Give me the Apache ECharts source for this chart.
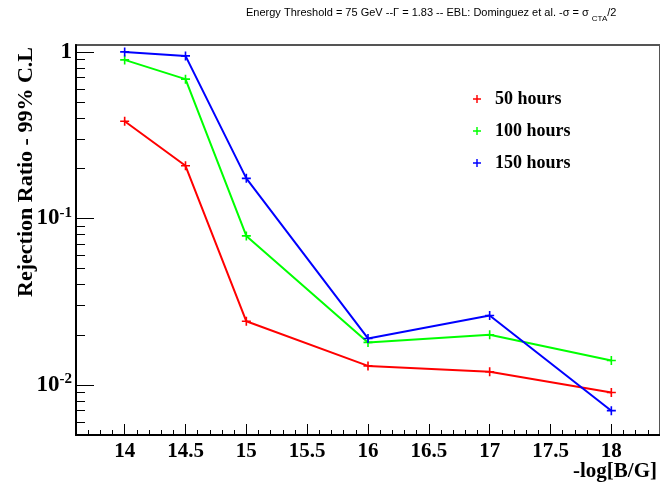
<!DOCTYPE html>
<html>
<head>
<meta charset="utf-8">
<script src="https://cdn.jsdelivr.net/npm/echarts@6/dist/echarts.min.js"></script>
<style>
  html, body { margin: 0; padding: 0; background: #fff; }
  #chart { width: 660px; height: 486px; }
</style>
</head>
<body>
<div id="chart"></div>
<script>
// -log[B/G] sample points
const magField = [14, 14.5, 15, 16, 17, 18];

// Rejection ratio at 99% C.L. per observation time
const seriesNames = ['50 hours', '100 hours', '150 hours'];
const ratio50h  = [0.383, 0.207, 0.0241, 0.0130, 0.0120, 0.0090];
const ratio100h = [0.895, 0.686, 0.0785, 0.0180, 0.0200, 0.0140];
const ratio150h = [1.0,   0.946, 0.174,  0.0190, 0.0261, 0.0070];
const seriesColors = ['#ff0000', '#00ff00', '#0000ff'];

// Axis ticks
const xMajorTicks = [14, 14.5, 15, 15.5, 16, 16.5, 17, 17.5, 18];
const xMinorTicks = [];
for (let i = 137; i <= 184; i++) { if (i % 5 !== 0) xMinorTicks.push(i / 10); }
const yMajorTicks = [0.01, 0.1, 1];
const yMinorTicks = [0.006, 0.007, 0.008, 0.009,
                     0.02, 0.03, 0.04, 0.05, 0.06, 0.07, 0.08, 0.09,
                     0.2, 0.3, 0.4, 0.5, 0.6, 0.7, 0.8, 0.9];

const X_MIN = 13.6, X_MAX = 18.4;
const Y_MIN = 0.005, Y_MAX = 1.1;

const serif = 'Liberation Serif';
const plusIcon = 'path://M0,4.1H10V5.9H0Z M4.1,0H5.9V10H4.1Z';

const chart = echarts.init(document.getElementById('chart'), null, { renderer: 'canvas' });

const pairs = vals => magField.map((x, i) => [x, vals[i]]);
const allValues = [ratio50h, ratio100h, ratio150h];

const option = {
  animation: false,
  backgroundColor: '#ffffff',
  title: {
    text: 'Energy Threshold = 75 GeV --\u0393 = 1.83 -- EBL: Dominguez et al. -\u03c3 = \u03c3 {sub|CTA}/2',
    left: 246,
    top: 3,
    padding: 0,
    textStyle: {
      fontFamily: 'Liberation Sans',
      fontSize: 11,
      fontWeight: 'normal',
      color: '#000',
      lineHeight: 20,
      rich: {
        sub: { fontFamily: 'Liberation Sans', fontSize: 8, color: '#000', verticalAlign: 'bottom', lineHeight: 7 }
      }
    }
  },
  legend: {
    orient: 'vertical',
    left: 473,
    top: 90,
    padding: 0,
    itemGap: 14,
    itemWidth: 8,
    itemHeight: 8,
    icon: plusIcon,
    data: seriesNames,
    textStyle: {
      fontFamily: serif,
      fontSize: 18,
      fontWeight: 'bold',
      color: '#000',
      padding: [0, 0, 0, 9]
    }
  },
  grid: {
    left: 76,
    top: 45,
    width: 585,
    height: 390,
    show: true,
    borderColor: '#555',
    borderWidth: 2,
    containLabel: false
  },
  xAxis: [
    {
      type: 'value',
      min: X_MIN,
      max: X_MAX,
      axisLine: { show: true, lineStyle: { color: '#000', width: 2 } },
      axisTick: { show: true, inside: true, length: 11, customValues: xMajorTicks, lineStyle: { color: '#000', width: 1 } },
      axisLabel: {
        customValues: xMajorTicks,
        margin: 6,
        fontFamily: serif, fontSize: 21, fontWeight: 'bold', color: '#000',
        formatter: v => String(v)
      },
      splitLine: { show: false }
    },
    {
      type: 'value',
      position: 'bottom',
      min: X_MIN,
      max: X_MAX,
      axisLine: { show: false },
      axisTick: { show: true, inside: true, length: 5, customValues: xMinorTicks, lineStyle: { color: '#000', width: 1 } },
      axisLabel: { show: false },
      splitLine: { show: false }
    }
  ],
  yAxis: [
    {
      type: 'log',
      logBase: 10,
      min: Y_MIN,
      max: Y_MAX,
      axisLine: { show: true, lineStyle: { color: '#000', width: 2 } },
      axisTick: { show: true, inside: true, length: 18, customValues: yMajorTicks, lineStyle: { color: '#000', width: 1 } },
      axisLabel: {
        customValues: yMajorTicks,
        margin: 4,
        color: '#000',
        formatter: v => {
          const e = Math.round(Math.log10(v));
          return e === 0 ? '{b|1}' : '{b|10}{s|' + e + '}';
        },
        rich: {
          b: { fontFamily: serif, fontSize: 23, fontWeight: 'bold', color: '#000', lineHeight: 26 },
          s: { fontFamily: serif, fontSize: 15, fontWeight: 'bold', color: '#000', verticalAlign: 'top', lineHeight: 15 }
        }
      },
      splitLine: { show: false }
    },
    {
      type: 'log',
      logBase: 10,
      position: 'left',
      min: Y_MIN,
      max: Y_MAX,
      axisLine: { show: false },
      axisTick: { show: true, inside: true, length: 9, customValues: yMinorTicks, lineStyle: { color: '#000', width: 1 } },
      axisLabel: { show: false },
      splitLine: { show: false }
    }
  ],
  graphic: [
    {
      type: 'text',
      x: 26,
      y: 47,
      rotation: Math.PI / 2,
      style: {
        text: 'Rejection Ratio - 99% C.L',
        fontFamily: serif, fontSize: 22, fontWeight: 'bold', fill: '#000',
        align: 'right', verticalAlign: 'middle'
      }
    },
    {
      type: 'text',
      x: 657,
      y: 472,
      style: {
        text: '-log[B/G]',
        fontFamily: serif, fontSize: 21, fontWeight: 'bold', fill: '#000',
        align: 'right', verticalAlign: 'middle'
      }
    }
  ],
  series: seriesNames.map((name, k) => ({
    name: name,
    type: 'line',
    xAxisIndex: 0,
    yAxisIndex: 0,
    data: pairs(allValues[k]),
    symbol: plusIcon,
    symbolSize: 9,
    showAllSymbol: true,
    itemStyle: { color: seriesColors[k] },
    lineStyle: { color: seriesColors[k], width: 2 },
    z: 3 + k
  }))
};

chart.setOption(option);
</script>
</body>
</html>
